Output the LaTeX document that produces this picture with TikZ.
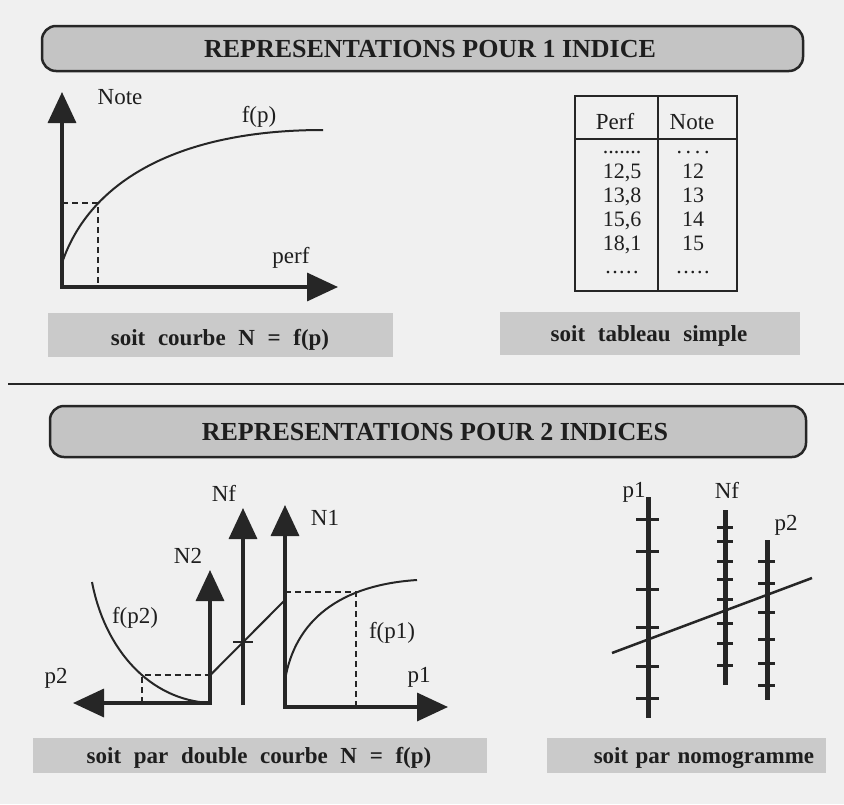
\documentclass[tikz,border=0pt]{standalone}
\usepackage{fontspec}
\setmainfont{Liberation Serif}
\usetikzlibrary{arrows.meta}
\definecolor{bgc}{RGB}{240,240,240}
\definecolor{bannerc}{RGB}{196,196,196}
\definecolor{boxc}{RGB}{202,202,202}
\definecolor{inkc}{RGB}{38,38,38}
\definecolor{textc}{RGB}{30,30,30}
\newcommand{\widewordsp}{\spaceskip=.55em\relax}
\newcommand{\midwordsp}{\spaceskip=.32em\relax}
\begin{document}
\begin{tikzpicture}[x=1pt,y=-1pt,
  axisarrow/.style={line width=3.5pt, draw=inkc, line cap=rect, -{Triangle[width=28pt,length=31pt]}},
  curveline/.style={line width=2pt, draw=inkc},
  dashline/.style={line width=2pt, draw=inkc, dash pattern=on 6pt off 4pt},
  banner/.style={draw=inkc, line width=2.5pt, fill=bannerc, rounded corners=14pt},
  labelbox/.style={fill=boxc, draw=none},
  btitle/.style={font=\fontsize{26}{30}\selectfont\bfseries, text=textc, inner sep=0pt},
  blabel/.style={font=\fontsize{23}{27}\selectfont\bfseries\widewordsp, text=textc, inner sep=0pt, anchor=base},
  blabelnarrow/.style={font=\fontsize{23}{27}\selectfont\bfseries\midwordsp, text=textc, inner sep=0pt, anchor=base},
  lbl/.style={font=\fontsize{23}{27}\selectfont, text=textc, inner sep=0pt, anchor=base},
  tcell/.style={font=\fontsize{22}{24}\selectfont, text=textc, inner sep=0pt, anchor=base},
  thead/.style={font=\fontsize{23}{25}\selectfont, text=textc, inner sep=0pt, anchor=base},
  tline/.style={line width=2.5pt, draw=inkc},
  nomaxis/.style={line width=5pt, draw=inkc},
  nomtick/.style={line width=3pt, draw=inkc},
]
\fill[bgc] (0,0) rectangle (844,804);
\useasboundingbox (0,0) rectangle (844,804);

% ---------- Banner 1 ----------
\draw[banner] (42,26) rectangle (803,71);
\node[btitle] (title1) at (430,49) {REPRESENTATIONS POUR 1 INDICE};

% ---------- Courbe N = f(p) ----------
\coordinate (o1) at (62,287);
\coordinate (ytip1) at (62,92);
\coordinate (xtip1) at (338,287);
\draw[axisarrow] (o1) -- (ytip1);
\draw[axisarrow] (o1) -- (xtip1);
\draw[curveline] (62,263) .. controls (90,180) and (180,130) .. (323,130) coordinate[pos=.27] (q0);
\draw[dashline] (o1 |- q0) -- (q0) -- (q0 |- o1);
\node[lbl] (note1) at (120,104) {Note};
\node[lbl] (fp1) at (259,122) {f(p)};
\node[lbl] (perf1) at (291,263) {perf};

\fill[labelbox] (48,313) rectangle (393,357);
\node[blabel] (lab1) at (220,345) {soit courbe N = f(p)};

% ---------- Tableau ----------
\draw[tline] (575,96) rectangle (737,291);
\draw[tline] (658,96) -- (658,291);
\draw[tline] (575,139) -- (737,139);
\node[thead] (hperf) at (615,129) {Perf};
\node[thead] (hnote) at (692,129) {Note};
\node[tcell] (d1l) at (622,153) {.......};
\node[tcell] (d1r) at (693,153) {.\,.\,.\,.};
\node[tcell] (r1l) at (622,178) {12,5};
\node[tcell] (r1r) at (693,178) {12};
\node[tcell] (r2l) at (622,202) {13,8};
\node[tcell] (r2r) at (693,202) {13};
\node[tcell] (r3l) at (622,226) {15,6};
\node[tcell] (r3r) at (693,226) {14};
\node[tcell] (r4l) at (622,250) {18,1};
\node[tcell] (r4r) at (693,250) {15};
\node[tcell] (d2l) at (622,273) {.\kern1.5pt.\kern1.5pt.\kern1.5pt.\kern1.5pt.};
\node[tcell] (d2r) at (693,273) {.\kern1.5pt.\kern1.5pt.\kern1.5pt.\kern1.5pt.};

\fill[labelbox] (500,312) rectangle (800,355);
\node[blabel] (lab2) at (649,341) {soit tableau simple};

% ---------- Divider ----------
\draw[line width=2.5pt, draw=inkc] (8,384) -- (844,384);

% ---------- Banner 2 ----------
\draw[banner] (50,406) rectangle (806,457);
\node[btitle] (title2) at (435,432) {REPRESENTATIONS POUR 2 INDICES};

% ---------- Double courbe ----------
\coordinate (o2) at (210,703);
\coordinate (p2tip) at (73,703);
\coordinate (n2tip) at (210,570);
\coordinate (nfb) at (243,705);
\coordinate (nftip) at (243,508);
\coordinate (o3) at (285,707);
\coordinate (n1tip) at (285,505);
\coordinate (p1tip) at (448,707);
\draw[axisarrow] (o2) -- (p2tip);
\draw[axisarrow] (o2) -- (n2tip);
\draw[axisarrow, line cap=butt] (nfb) -- (nftip);
\draw[axisarrow] (o3) -- (n1tip);
\draw[axisarrow] (o3) -- (p1tip);
% f(p1)
\draw[curveline] (285,680) .. controls (295,620) and (340,585) .. (417,580) coordinate[pos=.7] (q1);
\draw[dashline] (o3 |- q1) -- (q1) -- (q1 |- o3);
% f(p2)
\draw[curveline] (92,582) .. controls (105,650) and (150,700) .. (210,703) coordinate[pos=.57] (q2);
\draw[dashline] (q2 |- o2) -- (q2) -- (o2 |- q2);
% liaison
\coordinate (m1) at (285,600);
\draw[curveline] (o2 |- q2) -- (m1);
\coordinate (mx) at (243,642);
\draw[curveline] ([xshift=-10pt]mx) -- ([xshift=10pt]mx);
\node[lbl] (lnf) at (224,501) {Nf};
\node[lbl] (ln1) at (325,525) {N1};
\node[lbl] (ln2) at (188,563) {N2};
\node[lbl] (lfp2) at (135,623) {f(p2)};
\node[lbl] (lfp1) at (392,638) {f(p1)};
\node[lbl] (lp2) at (56,683) {p2};
\node[lbl] (lp1) at (419,682) {p1};

\fill[labelbox] (33,738) rectangle (487,773);
\node[blabel] (lab3) at (259,763) {soit par double courbe N = f(p)};

% ---------- Nomogramme ----------
\coordinate (a1t) at (648,497);
\coordinate (a1b) at (648,718);
\coordinate (a2t) at (725,510);
\coordinate (a2b) at (725,685);
\coordinate (a3t) at (767,540);
\coordinate (a3b) at (767,700);
\draw[nomaxis] (a1t) -- (a1b);
\draw[nomaxis] (a2t) -- (a2b);
\draw[nomaxis] (a3t) -- (a3b);
\foreach \y in {519,551,589,627,666,698} \draw[nomtick] (636,\y) -- (659,\y);
\foreach \y in {527,541,561,579,599,623,643,665} \draw[nomtick] (717,\y) -- (733,\y);
\foreach \y in {561,583,612,639,663,685} \draw[nomtick] (758,\y) -- (775,\y);
\coordinate (nl1) at (612,653);
\coordinate (nl2) at (812,578);
\draw[line width=2.5pt, draw=inkc] (nl1) -- (nl2);
\node[lbl] (np1) at (634,497) {p1};
\node[lbl] (nnf) at (727,498) {Nf};
\node[lbl] (np2) at (786,530) {p2};

\fill[labelbox] (547,738) rectangle (826,773);
\node[blabelnarrow] (lab4) at (704,763) {soit par nomogramme};
\end{tikzpicture}
\end{document}
